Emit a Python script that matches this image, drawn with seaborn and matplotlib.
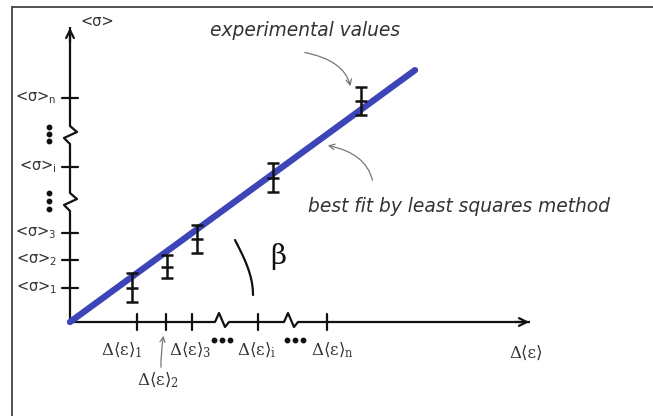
import matplotlib
matplotlib.use("Agg")
import matplotlib.pyplot as plt
import seaborn as sns
import numpy as np
import pandas as pd

sns.set_theme(style="white")
plt.rcParams['font.family'] = ['DejaVu Sans']
plt.rcParams['mathtext.default'] = 'regular'

# ---- data (schematic units, origin at axes corner) ----
strain_ticks = [67, 96, 122, 188, 257]
strain_labels = ["1", "2", "3", "i", "n"]
stress_ticks = [34, 62, 89, 155, 224]
stress_labels = ["1", "2", "3", "i", "n"]
exp_strain = [62, 97, 127, 203, 291]
exp_stress = [34.5, 55.5, 83, 144.5, 221]
exp_err = [14.5, 11.5, 14, 14.5, 14]
fit_strain = [0, 345]
fit_slope = 0.73
y_breaks = [120, 187]
x_breaks = [153, 222]
x_axis_end = 462
y_axis_end = 297

fit_df = pd.DataFrame({"strain": fit_strain,
                       "stress": [fit_slope * v for v in fit_strain]})
exp_df = pd.DataFrame({"strain": exp_strain, "stress": exp_stress, "err": exp_err})

W, H = 653, 416
OX, OY = 70, 322
fig = plt.figure(figsize=(W / 100, H / 100), dpi=100)
ax = fig.add_axes([0, 0, 1, 1])
ax.set_xlim(-OX, W - OX)
ax.set_ylim(OY - H, OY)
ax.axis("off")

def P(px, py):
    return px - OX, OY - py

AX = "#111111"
TXT = "#333333"
GREY = "#777777"
BLUE = "#3d44b8"
LW = 1.6

# frame (top and left border)
ax.plot([P(12, 7)[0], P(653, 7)[0]], [P(12, 7)[1]] * 2, color="#444444", lw=1.3, clip_on=False)
ax.plot([P(12, 7)[0]] * 2, [P(12, 7)[1], P(12, 416)[1]], color="#444444", lw=1.3, clip_on=False)

# ---- y axis with breaks ----
def ybreak(yb):
    return [0, -6, 7, 0], [yb - 9, yb - 3, yb + 3, yb + 9]

segs_y = [0] + sum([[b - 9, b + 9] for b in y_breaks], []) + [y_axis_end - 2]
for i in range(0, len(segs_y), 2):
    ax.plot([0, 0], [segs_y[i], segs_y[i + 1]], color=AX, lw=LW, solid_capstyle="butt")
for b in y_breaks:
    zx, zy = ybreak(b)
    ax.plot(zx, zy, color=AX, lw=LW)
ax.annotate("", xy=(0, y_axis_end), xytext=(0, y_axis_end - 20),
            arrowprops=dict(arrowstyle="->", color=AX, lw=LW, mutation_scale=14))

# ---- x axis with breaks ----
def xbreak(xb):
    return [xb - 8, xb - 4, xb + 2, xb + 6], [0, 9, -5, 0]

segs_x = [0] + sum([[b - 8, b + 6] for b in x_breaks], []) + [x_axis_end - 2]
for i in range(0, len(segs_x), 2):
    ax.plot([segs_x[i], segs_x[i + 1]], [0, 0], color=AX, lw=LW, solid_capstyle="butt")
for b in x_breaks:
    zx, zy = xbreak(b)
    ax.plot(zx, zy, color=AX, lw=LW)
ax.annotate("", xy=(x_axis_end, 0), xytext=(x_axis_end - 20, 0),
            arrowprops=dict(arrowstyle="->", color=AX, lw=LW, mutation_scale=14))

# ticks
for t in strain_ticks:
    ax.plot([t, t], [-8, 8], color=AX, lw=LW)
for t in stress_ticks:
    ax.plot([-8, 8], [t, t], color=AX, lw=LW)

# y tick labels
for t, lab in zip(stress_ticks, stress_labels):
    ax.text(P(57, 0)[0], t, "<σ>$_{%s}$" % lab, ha="right", va="center",
            fontsize=10.5, color=TXT)
ax.text(*P(81, 21), "<σ>", ha="left", va="center", fontsize=10.5, color=TXT)

# vertical dots
for py in [(127, 134, 141), (193, 201, 209)]:
    ax.plot([P(49, 0)[0]] * 3, [P(0, v)[1] for v in py], "o", color=AX, ms=3.2)

# x tick labels
sfam = ["DejaVu Serif"]
xl_pos = {"1": (101, 350), "2": (137, 380), "3": (169, 350), "i": (237, 350), "n": (311, 350)}
for lab in strain_labels:
    px, py = xl_pos[lab]
    ax.text(*P(px, py), "Δ⟨ε⟩$_{%s}$" % lab, ha="left", va="center",
            fontsize=12, color=TXT, family=sfam)
ax.text(*P(509, 353), "Δ⟨ε⟩", ha="left", va="center", fontsize=12, color=TXT, family=sfam)
ax.annotate("", xy=P(164, 333), xytext=P(161, 370),
            arrowprops=dict(arrowstyle="->", color=GREY, lw=0.9, mutation_scale=9,
                            connectionstyle="arc3,rad=-0.05"))
# horizontal dots
for px0 in (214, 287):
    ax.plot([P(px0 + k * 8, 0)[0] for k in range(3)], [P(0, 340)[1]] * 3, "o",
            color=AX, ms=3.2)

# ---- best fit line ----
sns.lineplot(data=fit_df, x="strain", y="stress", ax=ax, color=BLUE, lw=4.6,
             solid_capstyle="round", legend=False)

# ---- experimental values ----
ax.errorbar(exp_df["strain"], exp_df["stress"], yerr=exp_df["err"], fmt="none",
            ecolor=AX, elinewidth=1.8, capsize=4.5, capthick=1.8, zorder=4)
sns.scatterplot(data=exp_df, x="strain", y="stress", ax=ax, marker="_", s=70,
                color=AX, linewidth=1.8, zorder=5, legend=False)

# beta angle
t = np.linspace(0, 1, 20)
bx = 235 + 18 * np.sin(t * np.pi / 2)
by = 240 + 55 * t
ax.plot([P(a, b)[0] for a, b in zip(bx, by)], [P(a, b)[1] for a, b in zip(bx, by)],
        color=AX, lw=1.6)
ax.text(*P(270, 256), "β", ha="left", va="center", fontsize=20, color=AX,
        family=["DejaVu Serif"])

# annotations
hand = dict(fontsize=13.4, color=TXT, style="italic", family=["DejaVu Sans"])
ax.text(*P(210, 31), "experimental values", ha="left", va="center", **hand)
ax.annotate("", xy=P(351, 89), xytext=P(302, 52),
            arrowprops=dict(arrowstyle="->", color=GREY, lw=0.9, mutation_scale=10,
                            connectionstyle="angle3,angleA=-10,angleB=100"))
ax.text(*P(308, 207), "best fit by least squares method", ha="left", va="center", **hand)
ax.annotate("", xy=P(325, 145), xytext=P(373, 183),
            arrowprops=dict(arrowstyle="->", color=GREY, lw=0.9, mutation_scale=10,
                            connectionstyle="angle3,angleA=100,angleB=-10"))

ax.set_xlabel("")
ax.set_ylabel("")
fig.savefig("out.png", dpi=100)
